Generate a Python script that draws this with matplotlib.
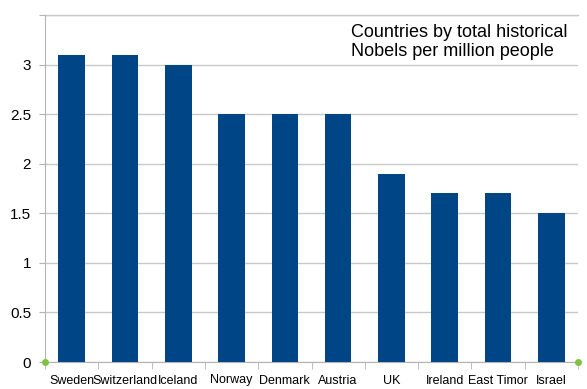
import matplotlib
matplotlib.use("Agg")
import matplotlib.pyplot as plt
import numpy as np

countries = ["Sweden", "Switzerland", "Iceland", "Norway", "Denmark", "Austria",
             "UK", "Ireland", "East Timor", "Israel"]
nobels_per_million = [3.1, 3.1, 3.0, 2.5, 2.5, 2.5, 1.9, 1.7, 1.7, 1.5]
yticks = [0, 0.5, 1, 1.5, 2, 2.5, 3, 3.5]
ytick_labels = ["0", "0.5", "1", "1.5", "2", "2.5", "3", ""]
title = "Countries by total historical\nNobels per million people"

plt.rcParams['font.family'] = ['Liberation Sans', 'DejaVu Sans']

fig = plt.figure(figsize=(5.87, 3.89), dpi=100)
ax = fig.add_axes([45/587, 27/389, 533/587, 347/389])

x = np.arange(len(countries))
ax.bar(x, nobels_per_million, width=0.5, color="#004586", zorder=3)

ax.set_xlim(-0.5, len(countries) - 0.5)
ax.set_ylim(0, 3.5)
ax.set_yticks(yticks)
ax.set_yticklabels(ytick_labels, fontsize=11)
ax.yaxis.grid(True, color="#c8c8c8", linewidth=1, zorder=0)
ax.axhline(3.5, color="#c8c8c8", linewidth=1, clip_on=False, zorder=0)
ax.tick_params(axis="y", length=4, color="#b3b3b3", pad=6)

ax.set_xticks(x)
ax.set_xticklabels(countries, fontsize=9)
ax.set_xticks(np.arange(-0.5, len(countries) + 0.5, 1), minor=True)
ax.tick_params(axis="x", which="major", length=0, pad=9)
ax.tick_params(axis="x", which="minor", length=5, color="#b3b3b3", direction="out")

for side in ["top", "right"]:
    ax.spines[side].set_visible(False)
ax.spines["left"].set_color("#b3b3b3")
ax.spines["bottom"].set_color("#b3b3b3")

ax.plot([-0.5, len(countries) - 0.5], [0, 0], "o", color="#7fc241",
        markersize=4, clip_on=False, zorder=5)

ax.text(0.575, 0.975, title, transform=ax.transAxes, fontsize=13,
        ha="left", va="top", linespacing=1.2)

fig.savefig("out.png", dpi=100)
